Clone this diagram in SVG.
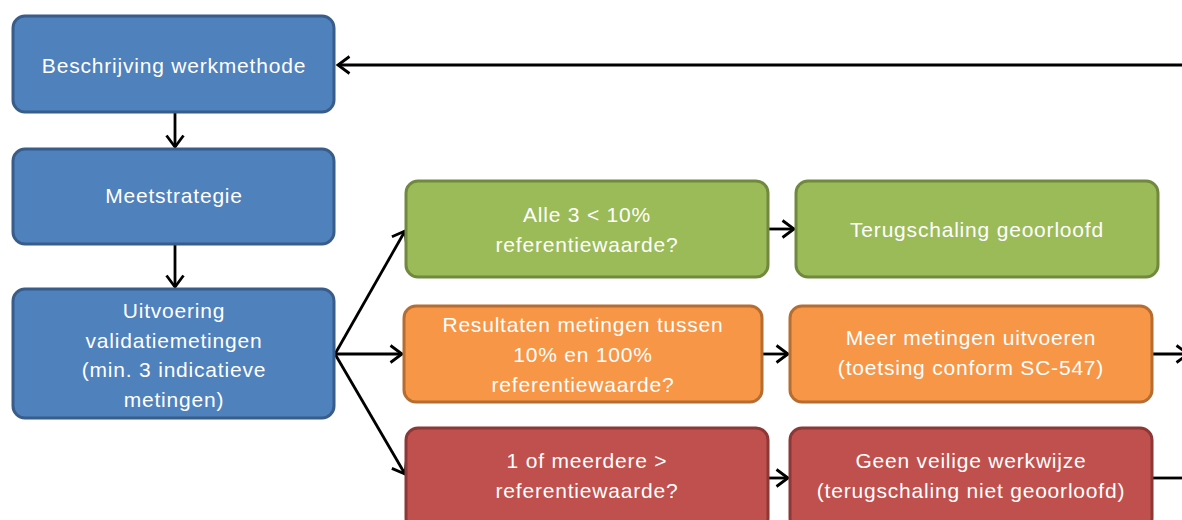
<svg xmlns="http://www.w3.org/2000/svg" width="1182" height="520" viewBox="0 0 1182 520">
<style>
.box{stroke-width:3}
.blue{fill:#4F81BD;stroke:#385D8A}
.green{fill:#9BBB59;stroke:#71893F}
.orange{fill:#F79646;stroke:#B66D31}
.red{fill:#C0504D;stroke:#8C3836}
text{font-family:"Liberation Sans",Arial,sans-serif;font-size:21px;fill:#FFFFFF;text-anchor:middle;letter-spacing:0.8px}
.conn{stroke:#000;stroke-width:2.8;fill:none}
</style>
<defs>
<marker id="arr" markerUnits="userSpaceOnUse" viewBox="0 0 16 20" markerWidth="16" markerHeight="20" refX="13" refY="10" orient="auto">
<path d="M1.5,1.5 L13,10 L1.5,18.5" fill="none" stroke="#000" stroke-width="2.8"/>
</marker>
</defs>
<g id="connectors">
<line class="conn" x1="1182" y1="65" x2="338" y2="65" marker-end="url(#arr)"/>
<line class="conn" x1="175" y1="113" x2="175" y2="147" marker-end="url(#arr)"/>
<line class="conn" x1="175" y1="245" x2="175" y2="287" marker-end="url(#arr)"/>
<line class="conn" x1="335" y1="354" x2="405" y2="231" marker-end="url(#arr)"/>
<line class="conn" x1="335" y1="354" x2="402" y2="354" marker-end="url(#arr)"/>
<line class="conn" x1="335" y1="354" x2="405" y2="474" marker-end="url(#arr)"/>
<line class="conn" x1="769" y1="229" x2="794" y2="229" marker-end="url(#arr)"/>
<line class="conn" x1="763" y1="354" x2="788" y2="354" marker-end="url(#arr)"/>
<line class="conn" x1="769" y1="478" x2="788" y2="478" marker-end="url(#arr)"/>
<line class="conn" x1="1153" y1="354" x2="1188" y2="354" marker-end="url(#arr)"/>
<line class="conn" x1="1153" y1="478" x2="1182" y2="478"/>
</g>
<g id="beschrijving">
<rect class="box blue" x="13" y="16" width="321" height="96" rx="12"/>
<text x="174" y="73">Beschrijving werkmethode</text>
</g>
<g id="meetstrategie">
<rect class="box blue" x="13" y="149" width="321" height="95" rx="12"/>
<text x="174" y="203">Meetstrategie</text>
</g>
<g id="uitvoering">
<rect class="box blue" x="13" y="289" width="321" height="129" rx="12"/>
<text x="174" y="318">Uitvoering</text>
<text x="174" y="348">validatiemetingen</text>
<text x="174" y="377">(min. 3 indicatieve</text>
<text x="174" y="407">metingen)</text>
</g>
<g id="alle3">
<rect class="box green" x="406" y="181" width="362" height="96" rx="12"/>
<text x="587" y="222">Alle 3 &lt; 10%</text>
<text x="587" y="252">referentiewaarde?</text>
</g>
<g id="resultaten">
<rect class="box orange" x="404" y="306" width="358" height="96" rx="12"/>
<text x="583" y="332">Resultaten metingen tussen</text>
<text x="583" y="362">10% en 100%</text>
<text x="583" y="392">referentiewaarde?</text>
</g>
<g id="meerdere">
<rect class="box red" x="406" y="428" width="362" height="102" rx="12"/>
<text x="587" y="468">1 of meerdere &gt;</text>
<text x="587" y="498">referentiewaarde?</text>
</g>
<g id="terugschaling">
<rect class="box green" x="796" y="181" width="362" height="96" rx="12"/>
<text x="977" y="237">Terugschaling geoorloofd</text>
</g>
<g id="meermetingen">
<rect class="box orange" x="790" y="306" width="362" height="96" rx="12"/>
<text x="971" y="345">Meer metingen uitvoeren</text>
<text x="971" y="375">(toetsing conform SC-547)</text>
</g>
<g id="geenveilige">
<rect class="box red" x="790" y="428" width="362" height="102" rx="12"/>
<text x="971" y="468">Geen veilige werkwijze</text>
<text x="971" y="498">(terugschaling niet geoorloofd)</text>
</g>
</svg>
